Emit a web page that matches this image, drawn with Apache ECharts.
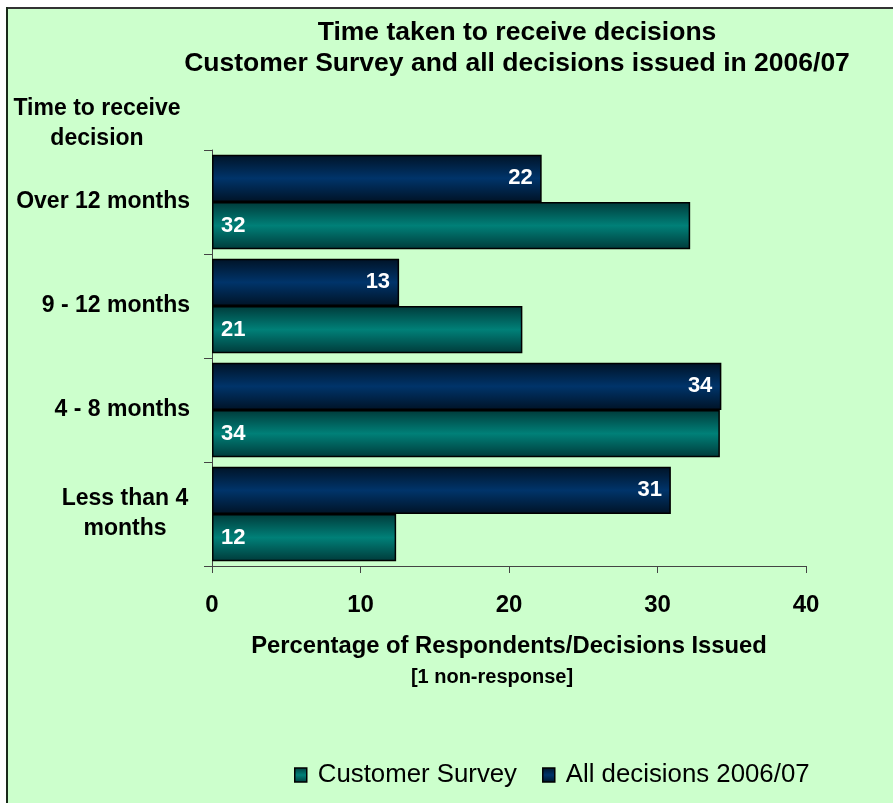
<!DOCTYPE html>
<html>
<head>
<meta charset="utf-8">
<title>Time taken to receive decisions</title>
<script src="https://cdn.jsdelivr.net/npm/echarts@6/dist/echarts.min.js"></script>
<style>
  html, body { margin: 0; padding: 0; background: #ffffff; }
  #chart { width: 893px; height: 803px; }
</style>
</head>
<body>
<div id="chart"></div>
<script>
// Decision-time bands, listed top to bottom
const categories = ['Over 12 months', '9 - 12 months', '4 - 8 months', 'Less than 4\nmonths'];
// Percentage of survey respondents in each band
const customerSurvey = [32.2, 20.9, 34.2, 12.4];
// Percentage of all decisions issued in 2006/07 in each band
const allDecisions = [22.2, 12.6, 34.3, 30.9];
const xTicks = [0, 10, 20, 30, 40];
const seriesNames = ['Customer Survey', 'All decisions 2006/07'];

const FONT = '"Liberation Sans", Arial, sans-serif';

function barFill(edge, mid) {
  return new echarts.graphic.LinearGradient(0, 0, 0, 1, [
    { offset: 0, color: edge },
    { offset: 0.5, color: mid },
    { offset: 1, color: edge }
  ]);
}

const chart = echarts.init(document.getElementById('chart'), null, { renderer: 'canvas' });

chart.setOption({
  animation: false,
  backgroundColor: '#ccffcc',
  textStyle: { fontFamily: FONT },
  graphic: [
    // white margin and dark frame along the top and left edges
    { type: 'rect', shape: { x: 0, y: 0, width: 893, height: 7 }, style: { fill: '#ffffff' }, silent: true },
    { type: 'rect', shape: { x: 0, y: 0, width: 6, height: 803 }, style: { fill: '#ffffff' }, silent: true },
    { type: 'rect', shape: { x: 6, y: 7, width: 887, height: 2 }, style: { fill: '#333333' }, silent: true },
    { type: 'rect', shape: { x: 6, y: 7, width: 2, height: 796 }, style: { fill: '#1a2a1a' }, silent: true }
  ],
  title: {
    text: 'Time taken to receive decisions\nCustomer Survey and all decisions issued in 2006/07',
    left: 512,
    top: 12,
    textAlign: 'center',
    textStyle: {
      fontFamily: FONT,
      fontWeight: 'bold',
      fontSize: 26.5,
      lineHeight: 31,
      color: '#000000'
    }
  },
  legend: {
    left: 289,
    top: 757,
    icon: 'rect',
    itemWidth: 12,
    itemHeight: 14,
    itemGap: 25,
    data: seriesNames,
    itemStyle: { borderColor: '#000000', borderWidth: 1.5 },
    textStyle: {
      fontFamily: FONT,
      fontSize: 25.8,
      color: '#000000',
      padding: [0, 0, 0, 6]
    }
  },
  grid: {
    left: 212,
    right: 87,
    top: 150,
    bottom: 237,
    containLabel: false
  },
  xAxis: {
    type: 'value',
    min: xTicks[0],
    max: xTicks[xTicks.length - 1],
    interval: xTicks[1] - xTicks[0],
    splitLine: { show: false },
    axisLine: { show: true, lineStyle: { color: '#444444', width: 1 } },
    axisTick: { show: true, length: 7, lineStyle: { color: '#444444' } },
    axisLabel: {
      margin: 27,
      fontFamily: FONT,
      fontWeight: 'bold',
      fontSize: 24,
      color: '#000000'
    },
    name: '{a|Percentage of Respondents/Decisions Issued}\n{b|[1 non-response]}',
    nameLocation: 'middle',
    nameGap: 65,
    nameTextStyle: {
      rich: {
        a: { fontFamily: FONT, fontWeight: 'bold', fontSize: 23.8, lineHeight: 31, color: '#000000' },
        b: { fontFamily: FONT, fontWeight: 'bold', fontSize: 20, lineHeight: 31, color: '#000000', padding: [0, 34, 0, 0] }
      }
    }
  },
  yAxis: {
    type: 'category',
    inverse: true,
    data: categories,
    axisLine: { show: true, lineStyle: { color: '#444444', width: 1 } },
    axisTick: { show: true, length: 8, lineStyle: { color: '#444444' } },
    axisLabel: {
      margin: 22,
      fontFamily: FONT,
      fontWeight: 'bold',
      fontSize: 23,
      color: '#000000',
      formatter: function (v) {
        if (v.indexOf('\n') < 0) return v;
        return v.split('\n').map(function (s) { return '{c|' + s + '}'; }).join('\n');
      },
      rich: {
        c: { fontFamily: FONT, fontWeight: 'bold', fontSize: 23, lineHeight: 30, width: 130, align: 'center', color: '#000000' }
      }
    },
    name: 'Time to receive\ndecision',
    nameLocation: 'start',
    nameGap: -4,
    nameTextStyle: {
      fontFamily: FONT,
      fontWeight: 'bold',
      fontSize: 23,
      lineHeight: 30,
      color: '#000000',
      align: 'center',
      verticalAlign: 'bottom',
      padding: [0, 230, 0, 0]
    }
  },
  series: [
    {
      name: seriesNames[1],
      type: 'bar',
      data: allDecisions,
      barGap: '0%',
      barCategoryGap: '9%',
      itemStyle: {
        color: barFill('#001326', '#00346a'),
        borderColor: '#000000',
        borderWidth: 1.5
      },
      label: {
        show: true,
        position: 'insideRight',
        distance: 9,
        formatter: function (p) { return Math.round(p.value); },
        fontFamily: FONT,
        fontWeight: 'bold',
        fontSize: 22,
        color: '#ffffff'
      }
    },
    {
      name: seriesNames[0],
      type: 'bar',
      data: customerSurvey,
      barGap: '0%',
      barCategoryGap: '9%',
      itemStyle: {
        color: barFill('#003a3a', '#008078'),
        borderColor: '#000000',
        borderWidth: 1.5
      },
      label: {
        show: true,
        position: 'insideLeft',
        distance: 9,
        formatter: function (p) { return Math.round(p.value); },
        fontFamily: FONT,
        fontWeight: 'bold',
        fontSize: 22,
        color: '#ffffff'
      }
    }
  ]
});
</script>
</body>
</html>
